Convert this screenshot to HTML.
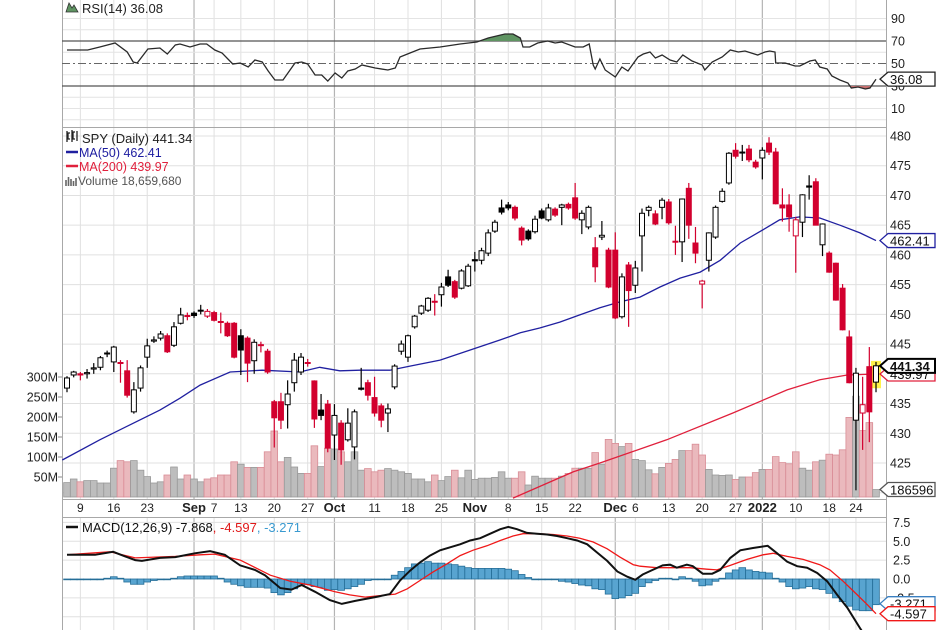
<!DOCTYPE html>
<html><head><meta charset="utf-8"><title>SPY Daily</title>
<style>
html,body{margin:0;padding:0;background:#fff;}
svg{display:block;font-family:"Liberation Sans",Arial,sans-serif;}
</style></head>
<body>
<svg id="chart" width="936" height="630" viewBox="0 0 936 630" xmlns="http://www.w3.org/2000/svg">
<defs>
<clipPath id="cpMain"><rect x="62" y="128" width="824" height="371"/></clipPath>
<clipPath id="cpRsi"><rect x="62" y="0" width="824" height="127"/></clipPath>
<clipPath id="cpMacd"><rect x="62" y="518" width="824" height="112"/></clipPath>
</defs>
</svg>
<script>
// ---- data ----
const opens=[437.6,439.8,440.0,440.0,440.8,441.1,443.4,442,441.9,440.5,433.6,437.6,442.8,445.5,446,446.4,444.8,448.5,449.8,450.2,450.6,449.7,450.3,448.8,448.5,448.5,446.4,446,442.2,444.9,443.8,435.3,435.3,434.8,438.5,440.3,441.9,438.8,433.9,434.9,429.7,431.7,428.9,427.7,437.6,438.5,436,434.6,433.4,437.8,443.8,442.8,447.9,450.2,450.7,452.2,453.3,456.3,455.5,454.4,454.8,459.2,459.1,460.3,464,467.9,468.4,468,464.5,464,463.9,467.4,465.9,467.7,468,468.5,469.6,465.9,464.7,461.2,463,460.8,460.8,449.6,458.3,454.9,463.2,467.5,466.9,468,468.9,462.3,462.2,471.2,462,455.1,459.1,463,469,472.1,477.6,477.2,477.8,475.6,476.3,478.8,477.3,468.4,468.4,463.2,465.5,471.6,472.3,461.7,460.3,458.6,454.4,446.2,432.2,433.4,441.2,438.6];
const highs=[439.6,440.5,440.3,440.8,441.8,443,443.9,444.7,442.3,442.3,438.6,441.4,445.9,446.3,447.2,446.8,448.7,451.1,450.3,450.5,451.6,450.9,450.6,450.3,448.8,448.7,447.5,446.3,445.8,445.4,444.2,435.6,436.8,438.9,443.5,443.5,442.5,438.9,436.6,435.6,434.9,432.2,434.2,434,441,439,439.5,435,435,441.6,445.6,446.6,449.9,451.6,452.9,453.4,455.3,457.5,455.8,457.6,458.5,460.5,461.2,464.3,465.9,469.3,468.9,468.3,464.8,464.3,466.6,467.8,468.6,468,468.6,468.8,472.1,467.5,468.3,463,465.7,461.2,463.8,456.9,458.8,459,467.8,468.3,467.5,469.6,469.4,464.9,469.5,472.1,464.7,455.8,463.8,468.3,471.2,477.3,478.8,478.5,478.5,476,478.1,479.8,478,471.2,470.2,466.4,470.2,473.4,472.9,465.3,460.6,458.7,455.1,447.3,441,439.5,444.5,442];
const lows=[436.9,439.4,438.9,439.2,440,440.6,442.8,440.3,438.5,436,433.3,437,441,445.2,445.6,443.5,444.5,448.3,449,449.4,450,449.4,448.8,446.8,446.2,442.6,439.8,438.6,440,443.6,440,427.6,430.7,430.8,437,439.8,441.2,430.9,432.2,426.8,425.5,424.7,428.6,425.6,437.2,435.5,432.8,431,430.2,437.4,443.2,442,447.6,449.9,450.4,449.8,451.3,454.6,452.6,454.2,454.6,457.2,458.4,459.8,463.7,466.8,467.5,465.8,461.6,462.4,463.6,466,465.6,466.4,465,467.6,465.9,463.5,464.3,455.4,462.5,454.4,449.2,449.3,447.9,453.6,457.2,466.5,465,466,465.1,460,458.8,462.7,458.6,451,457.2,462.7,468.8,471.8,476.2,475.8,475.6,474.5,472.7,476.8,468.5,465.6,463.9,457,463,469.3,465,459.8,457,452.3,447.3,438.4,420.4,427.2,428.5,436.9];
const closes=[439.3,440.3,439.8,440.2,441.0,442.7,443.5,444.5,441.8,436.4,437.3,441,444.7,445.7,446.7,443.7,447.9,449.9,449.7,449.8,450.7,450.5,449,448.7,446.4,442.8,444.0,441.8,445.3,444.8,440.3,432.6,432.2,436.6,442.3,442.8,441.8,432.4,433.0,427.5,433,427.2,431.7,433.6,437.4,436.4,433.4,432.2,434.1,441.3,445,446.4,449.7,451.4,452.7,452.1,454.6,454.9,452.9,457.3,458.1,459.0,460.7,463.7,465.5,467.2,467.9,466.2,462.5,462.7,466,466.2,467.9,466.7,468.4,467.9,466.2,467,468,458,463.3,454.6,449.4,456.3,454,457.8,467,468,465.2,469.2,465.4,462.2,469.4,465,460.3,455.6,463.7,468,470.7,477.1,476.6,477.3,476,474.8,477.6,477.3,468.6,467.9,466.4,465.9,470.1,471.4,465,465.2,457.1,452.4,447.4,438.5,440.1,434.8,433.6,441.34];
const volumes=[36,45,38,41,41,35,35,72,91,88,91,67,51,35,38,55,75,45,55,45,38,45,48,55,55,88,82,74,74,74,113,165,88,99,75,59,59,128,76,122,120,113,88,113,67,71,63,67,71,67,63,59,45,45,38,55,41,51,67,48,67,44,47,47,49,63,47,47,63,30,52,47,47,47,52,59,72,72,72,111,82,144,134,126,134,94,91,68,58,74,84,94,116,116,132,105,69,55,54,55,44,50,50,61,69,69,101,86,83,113,72,67,88,92,107,105,118,199,252,166,186,18.66];
const histVals=[-0.1,0,0,0,0,0,0.1,0.3,0.1,-0.4,-0.7,-0.7,-0.4,-0.2,-0.1,0,0.1,0.3,0.4,0.4,0.4,0.4,0.4,0.1,-0.4,-0.7,-0.9,-1.1,-1.1,-1.1,-1.2,-1.8,-2.1,-1.8,-1.3,-0.9,-0.7,-1.0,-1.1,-1.5,-1.4,-1.5,-1.3,-1.0,-0.7,-0.2,0,0,0,0.5,1.0,1.5,2.0,2.1,2.3,2.1,2.1,2.0,1.9,1.7,1.5,1.4,1.4,1.4,1.4,1.4,1.3,1.1,0.6,0.2,0,0,0,-0.1,-0.3,-0.4,-0.6,-0.8,-0.9,-1.3,-1.4,-2.0,-2.6,-2.5,-2.2,-1.9,-1.0,-0.5,-0.2,0.1,0.1,-0.1,0.3,0.1,-0.3,-0.9,-0.8,-0.3,0.1,0.8,1.2,1.5,1.2,1.0,0.9,0.8,0.1,-0.4,-1.0,-1.3,-1.2,-1.0,-1.3,-1.4,-1.9,-2.5,-3.0,-3.6,-4.1,-4.2,-4.2,-3.4];
const ma50Idx=[-0.7,4.9,9.4,13.9,16.9,19.9,24.4,29.2,34.8,37.8,40.8,43.8,48.3,51.3,55.8,60.3,64.8,67.8,70.7,73.7,76.7,79.7,82.7,85.7,88.7,91.7,94.7,97.7,100.7,103.6,106.6,109.6,112.6,115.6,118.6,121];
const ma50Val=[425.5,428.9,431.4,433.9,435.9,438.1,440.3,440.6,440.3,441.1,440.5,440.6,440.6,441.3,442.3,444,445.7,446.9,447.7,448.7,449.9,451.1,452.1,452.9,454.6,456.1,457.1,459.1,462,463.9,465.9,466.4,466.2,465,463.7,462.41];
const ma200Idx=[66.7,75.7,79.7,89.7,99.6,107.7,112.6,116.7,121];
const ma200Val=[419.1,423.5,425,428.9,433.4,437.3,439,439.8,439.97];
const rsiIdx=[0,3.1,4.9,7.2,9,9.9,10.5,12.1,13.9,15,16.2,16.9,18.4,19.9,20.9,22.1,23.2,24.8,25.9,27.1,28.1,29.2,30.1,31.1,32.3,34.1,35.1,36,37.1,38.1,39,40.1,41.1,42,43.1,44.1,46.1,48,49.1,49.8,51.3,52.8,55.8,58.8,61.3,63,65.5,66.7,67.8,68.2,69.2,70.4,71.9,73,74,76,77.2,78.1,78.7,79,79.7,80.5,82,83,83.9,85.4,86.2,87.2,88,89,90.2,91.2,92.1,93.5,95,95.4,96.5,98,99.2,100.4,101.4,103.3,104.4,105.1,105.9,106,107.4,108.9,109.6,111.1,111.9,112.6,113.7,114.4,115.6,116.8,117.3,118.3,119.4,120.1,121];
const rsiVal=[62,62,64.7,68.2,60.2,51.3,50.4,62.9,63.8,58.4,66.4,67.3,64.7,67.3,67.3,62,59.3,49.6,50.4,46.9,53.1,51.3,43.3,35.3,35.3,50.4,51.3,49.6,39.8,39.8,34.4,41.6,37.1,43.3,45.1,48.7,46,44.2,46,55.8,59.3,62.9,64.7,67.3,69.1,72.7,76.2,76.2,72.7,64.7,64.7,68.2,70,68.2,69.1,64.7,64.7,67.3,48.7,45.1,54,44.2,38,46.9,43.3,55.8,58.4,60.2,54.9,57.6,53.1,51.3,57.6,52.2,48.7,44.2,51.3,55.8,62,60.2,61.1,57.6,60.2,61.1,60.2,50.4,50.4,47.8,47.8,52.2,53.1,46.9,45.1,38.9,35.3,32.7,28.2,29.1,27.3,28.2,36.08];
const macdIdx=[0,4.2,6.9,8.7,10.2,11.2,13.9,16.2,19.1,21.4,23.6,25.9,28.1,29.6,31.9,33.6,35.1,37.1,39.3,41.1,43.1,46.1,48.3,49.8,51.3,52.8,54.3,55.8,57.3,58.8,60.3,61.8,63.3,64.8,66,67.3,68.8,70.3,71.8,73.3,74.8,76.3,77.8,79.3,80.8,82.3,83.8,85,86.1,87.6,89.1,90.2,91.2,92.7,93.6,95.1,96.5,97.7,99.2,100.7,102.6,104.8,106.2,107.7,109.2,110.7,112.2,113.7,115.2,116.7,118.6,119.6];
const macdVal=[3.2,3.2,3.6,3.0,2.5,2.4,2.8,2.9,3.4,3.7,3.2,1.8,1.2,0.5,-1.2,-1.4,-0.8,-1.7,-2.8,-3.3,-2.9,-2.4,-2.0,-0.2,1.1,2.2,3.1,3.8,4.2,4.6,5.1,5.4,6.0,6.6,6.9,6.6,6.1,6.0,5.9,5.7,5.4,5.1,4.6,3.5,2.4,1.0,0.3,-0.1,0.6,1.2,1.8,1.9,1.5,1.9,1.7,0.7,0.7,1.2,2.8,3.8,4.1,4.4,3.4,2.3,1.7,1.5,0.8,-0.3,-2.1,-3.8,-6.5,-7.868];
const sigIdx=[0,6.4,10.2,16.2,19.9,22.1,25.9,30.4,33.4,36.3,40.1,42.3,44.6,46.8,49.1,50.9,52.8,54.7,56.8,58.8,60.7,62.8,64.8,66.7,68.2,70.3,72.7,74.8,76.7,78.7,80.8,82.7,84.7,85.7,88.2,90.6,93.2,95.7,97.2,99.2,101.7,104.1,105.6,107.7,110.1,112.6,114.1,116.1,118.2,119.7,121];
const sigVal=[3.2,3.6,2.8,3.0,3.2,3.3,2.5,0.5,-0.3,-0.8,-1.7,-2.1,-2.4,-2.2,-2.0,-1.3,-0.2,0.9,2.0,3.1,3.8,4.4,5.1,5.7,6.0,6.0,5.9,5.7,5.4,4.9,4.0,2.9,1.9,1.7,1.5,1.5,1.5,1.3,1.2,1.8,2.6,3.2,3.4,3.0,2.6,1.9,1.2,-0.3,-2.1,-3.4,-4.597];
const tickIdx=[2,7,12,19,22,26,31,36,40,46,51,56,61,66,71,76,82,85,90,95,100,104,109,114,118];
const tickText=['9','16','23','Sep','7','13','20','27','Oct','11','18','25','Nov','8','15','22','Dec','6','13','20','27','2022','10','18','24'];
const priceTicks=[480,475,470,465,460,455,450,445,440,435,430,425];
const priceGrid=[420,425,430,435,440,445,450,455,460,465,470,475,480];
const volTicks=[50,100,150,200,250,300];
const volTickText=['50M','100M','150M','200M','250M','300M'];
const rsiTicks=[90,70,50,30,10];
const rsiGrid=[0,10,20,40,60,80,90];
const macdTicks=[7.5,5.0,2.5,0.0,-2.5];
const macdGrid=[-5,-2.5,2.5,5,7.5];

// ---- scales ----
const xOf=i=>67+i*6.686;
const yP=p=>136+(480-p)*5.945;
const yV=v=>497-v*0.4;
const yR=v=>41+(70-v)*1.125;
const yM=v=>579-v*7.55;

const NS='http://www.w3.org/2000/svg';
const svg=document.getElementById('chart');
function mk(tag,attrs,parent){const e=document.createElementNS(NS,tag);for(const k in attrs)e.setAttribute(k,attrs[k]);(parent||svg).appendChild(e);return e;}
function grp(clip){const g=mk('g',clip?{'clip-path':'url(#'+clip+')'}:{});return g;}

// ---- grid ----
const gGrid=grp();


tickIdx.forEach((t,k)=>{
  const month=isNaN(+tickText[k])||tickText[k]==='2022';
  [[0,127],[128,499],[518,630]].forEach(r=>{
    const l=mk('line',{x1:xOf(t),x2:xOf(t),y1:r[0],y2:r[1],stroke:month?'#b4b4b4':'#e0e0e0','stroke-width':month?1.2:1},gGrid);
    
    
  });
});
priceGrid.forEach(p=>{const l=mk('line',{x1:62,x2:886,y1:yP(p),y2:yP(p),stroke:'#e0e0e0'},gGrid);
  
  });
rsiGrid.forEach(v=>{const l=mk('line',{x1:62,x2:886,y1:yR(v),y2:yR(v),stroke:'#e4e4e4'},gGrid);
  
  });
macdGrid.forEach(v=>{const l=mk('line',{x1:62,x2:886,y1:yM(v),y2:yM(v),stroke:'#e0e0e0'},gGrid);
  
  });

// panel borders / axes
[[62,127.5,886,127.5],[62,499.5,886,499.5],[62,517.5,886,517.5],[62.5,0,62.5,630],[886.5,0,886.5,630]].forEach(a=>{
  const l=mk('line',{x1:a[0],y1:a[1],x2:a[2],y2:a[3],stroke:'#a8a8a8'});
  
  
});

// ---- RSI panel ----
const gR=grp('cpRsi');


[70,30].forEach(v=>{const l=mk('line',{x1:62,x2:886,y1:yR(v),y2:yR(v),stroke:'#555','stroke-width':1.2},gR);
  
  });
const mid=mk('line',{x1:62,x2:886,y1:yR(50),y2:yR(50),stroke:'#666','stroke-dasharray':'8,3,2,3'},gR);


const rsiPts=rsiIdx.map((t,k)=>xOf(t).toFixed(1)+','+yR(rsiVal[k]).toFixed(1));
const x0=xOf(rsiIdx[0]),x1=xOf(rsiIdx[rsiIdx.length-1]);
mk('clipPath',{id:'cpAbove'},svg.querySelector('defs'));
mk('rect',{x:62,y:0,width:824,height:yR(70)},document.getElementById('cpAbove'));
mk('clipPath',{id:'cpBelow'},svg.querySelector('defs'));
mk('rect',{x:62,y:yR(30),width:824,height:40},document.getElementById('cpBelow'));
const fa=mk('polygon',{points:rsiPts.join(' ')+' '+x1+','+yR(70)+' '+x0+','+yR(70),fill:'#5f9462','clip-path':'url(#cpAbove)'},gR);


const fb=mk('polygon',{points:rsiPts.join(' ')+' '+x1+','+yR(30)+' '+x0+','+yR(30),fill:'#c77070','clip-path':'url(#cpBelow)'},gR);


const rl=mk('polyline',{points:rsiPts.join(' '),fill:'none',stroke:'#2a2a2a','stroke-width':1.3},gR);



// ---- main panel ----
const gM=grp('cpMain');


const step=6.686;
volumes.forEach((v,i)=>{
  const up=i===0||closes[i]>=closes[i-1];
  const r=mk('rect',{x:xOf(i)-step/2,y:yV(v),width:step,height:497-yV(v),fill:up?'#bdbdbd':'#eab9bd',stroke:up?'#999':'#d98d96','stroke-width':0.8},gM);
  
  
});
function linePath(idx,val,fy){return idx.map((t,k)=>(k?'L':'M')+xOf(t).toFixed(1)+' '+fy(val[k]).toFixed(1)).join(' ');}
const m200=mk('path',{d:linePath(ma200Idx,ma200Val,yP),fill:'none',stroke:'#e0203c','stroke-width':1.3},gM);


const m50=mk('path',{d:linePath(ma50Idx,ma50Val,yP),fill:'none',stroke:'#2020a0','stroke-width':1.3},gM);


// highlight last candle
const li=closes.length-1;
const hl=mk('rect',{x:xOf(li)-5,y:yP(highs[li])-1,width:10,height:yP(lows[li])-yP(highs[li])-3,fill:'#fff34a'},gM);


closes.forEach((c,i)=>{
  const o=opens[i];
  const col=(i===0||c>=closes[i-1])?'#000':'#d2002e';
  const x=xOf(i);
  const w=mk('line',{x1:x,x2:x,y1:yP(highs[i]),y2:yP(lows[i]),stroke:col,'stroke-width':1.2},gM);
  
  
  const top=yP(Math.max(o,c)),h=Math.max(1,Math.abs(yP(o)-yP(c)));
  const b=mk('rect',{x:x-2.5,y:top,width:5,height:h,fill:c>=o?'#fff':col,stroke:col,'stroke-width':1},gM);
  
  
});

// ---- MACD panel ----
const gD=grp('cpMacd');


histVals.forEach((v,i)=>{
  const y=Math.min(yM(0),yM(v)),h=Math.max(0.8,Math.abs(yM(v)-yM(0)));
  const r=mk('rect',{x:xOf(i)-step/2,y:y,width:step,height:h,fill:'#58a4d0',stroke:'#256e98','stroke-width':0.8},gD);
  
  
});
const sl=mk('path',{d:linePath(sigIdx,sigVal,yM),fill:'none',stroke:'#f01818','stroke-width':1.3},gD);


const ml=mk('path',{d:linePath(macdIdx,macdVal,yM),fill:'none',stroke:'#111','stroke-width':2},gD);



// ---- axis labels ----
function txt(x,y,s,attrs,name){const t=mk('text',Object.assign({x:x,y:y,'font-size':12,fill:'#222'},attrs||{}));t.textContent=s;
  
  return t;}
tickIdx.forEach((t,k)=>{const month=isNaN(+tickText[k])||tickText[k]==='2022';
  txt(xOf(t),512,tickText[k],{'text-anchor':'middle','font-weight':month?'bold':'normal','font-size':month?13:12},'x-tick-label');});
priceTicks.forEach(p=>txt(890,yP(p)+4.5,String(p),{'font-size':12.5},'price-tick-label'));
rsiTicks.forEach(v=>txt(891,yR(v)+4.5,String(v),{'font-size':12.5},'rsi-tick-label'));
macdTicks.forEach(v=>txt(893,yM(v)+4.5,v.toFixed(1),{'font-size':12.5},'macd-tick-label'));
volTicks.forEach((v,k)=>{txt(58,yV(v)+4.5,volTickText[k],{'text-anchor':'end','font-size':12.5},'volume-tick-label');
  const l=mk('line',{x1:58,x2:62,y1:yV(v),y2:yV(v),stroke:'#888'});
  
  });

// ---- value tags ----
function tag(y,s,stroke,bold,name){
  const g=mk('g',{});
  
  
  mk('path',{d:`M880 ${y} L888 ${y-7} L935 ${y-7} L935 ${y+7} L888 ${y+7} Z`,fill:'#fff',stroke:stroke,'stroke-width':bold?2:1.3},g);
  const t=mk('text',{x:890,y:y+5,'font-size':13,'font-weight':bold?'bold':'normal',fill:'#111'},g);t.textContent=s;
}
tag(yR(rsiVal[rsiVal.length-1]),rsiVal[rsiVal.length-1].toFixed(2),'#222',false,'rsi-value-tag');
tag(yP(ma50Val[ma50Val.length-1]),ma50Val[ma50Val.length-1].toFixed(2),'#2020a0',false,'ma50-value-tag');
tag(yP(ma200Val[ma200Val.length-1]),ma200Val[ma200Val.length-1].toFixed(2),'#e0203c',false,'ma200-value-tag');
tag(yP(closes[li]),closes[li].toFixed(2),'#000',true,'price-value-tag');
tag(yV(volumes[li]),'186596','#555',false,'volume-value-tag');
tag(yM(-3.271),'-3.271','#3a7fc0',false,'histogram-value-tag');
tag(yM(sigVal[sigVal.length-1]),sigVal[sigVal.length-1].toFixed(3),'#f01818',false,'signal-value-tag');

// ---- legends ----
const lg=mk('g',{});


mk('path',{d:'M66 12 L69 3 L72 8 L74 5 L78 12 Z',fill:'#5f9462',stroke:'#333','stroke-width':0.8},lg);
txt(82,13,'RSI(14) 36.08',{'font-size':13},'rsi-legend');
mk('path',{d:'M67 131v11M70 133h-2v6h2M72 130v12M75 132h-2v7h2M77 131v10',stroke:'#222',fill:'none','stroke-width':1.3},lg);
txt(82,143,'SPY (Daily) 441.34',{'font-size':13},'price-legend');
mk('line',{x1:66,x2:78,y1:152,y2:152,stroke:'#2020a0','stroke-width':2.5},lg);
txt(79,157,'MA(50) 462.41',{'font-size':12.5,fill:'#1c1ca0'},'ma50-legend');
mk('line',{x1:66,x2:78,y1:166,y2:166,stroke:'#e0203c','stroke-width':2.5},lg);
txt(79,171,'MA(200) 439.97',{'font-size':12.5,fill:'#e0203c'},'ma200-legend');
mk('path',{d:'M66 186v-6M68.5 186v-9M71 186v-7M73.5 186v-5M76 186v-8',stroke:'#666','stroke-width':1.6},lg);
txt(78,185,'Volume 18,659,680',{'font-size':12,fill:'#555'},'volume-legend');
mk('line',{x1:66,x2:78,y1:527,y2:527,stroke:'#111','stroke-width':2.5},lg);
const mt=mk('text',{x:82,y:532,'font-size':13,fill:'#111'},lg);


mt.innerHTML='MACD(12,26,9) -7.868<tspan fill="#e01818">, -4.597</tspan><tspan fill="#3a9ad0">, -3.271</tspan>';
</script>
</body></html>
